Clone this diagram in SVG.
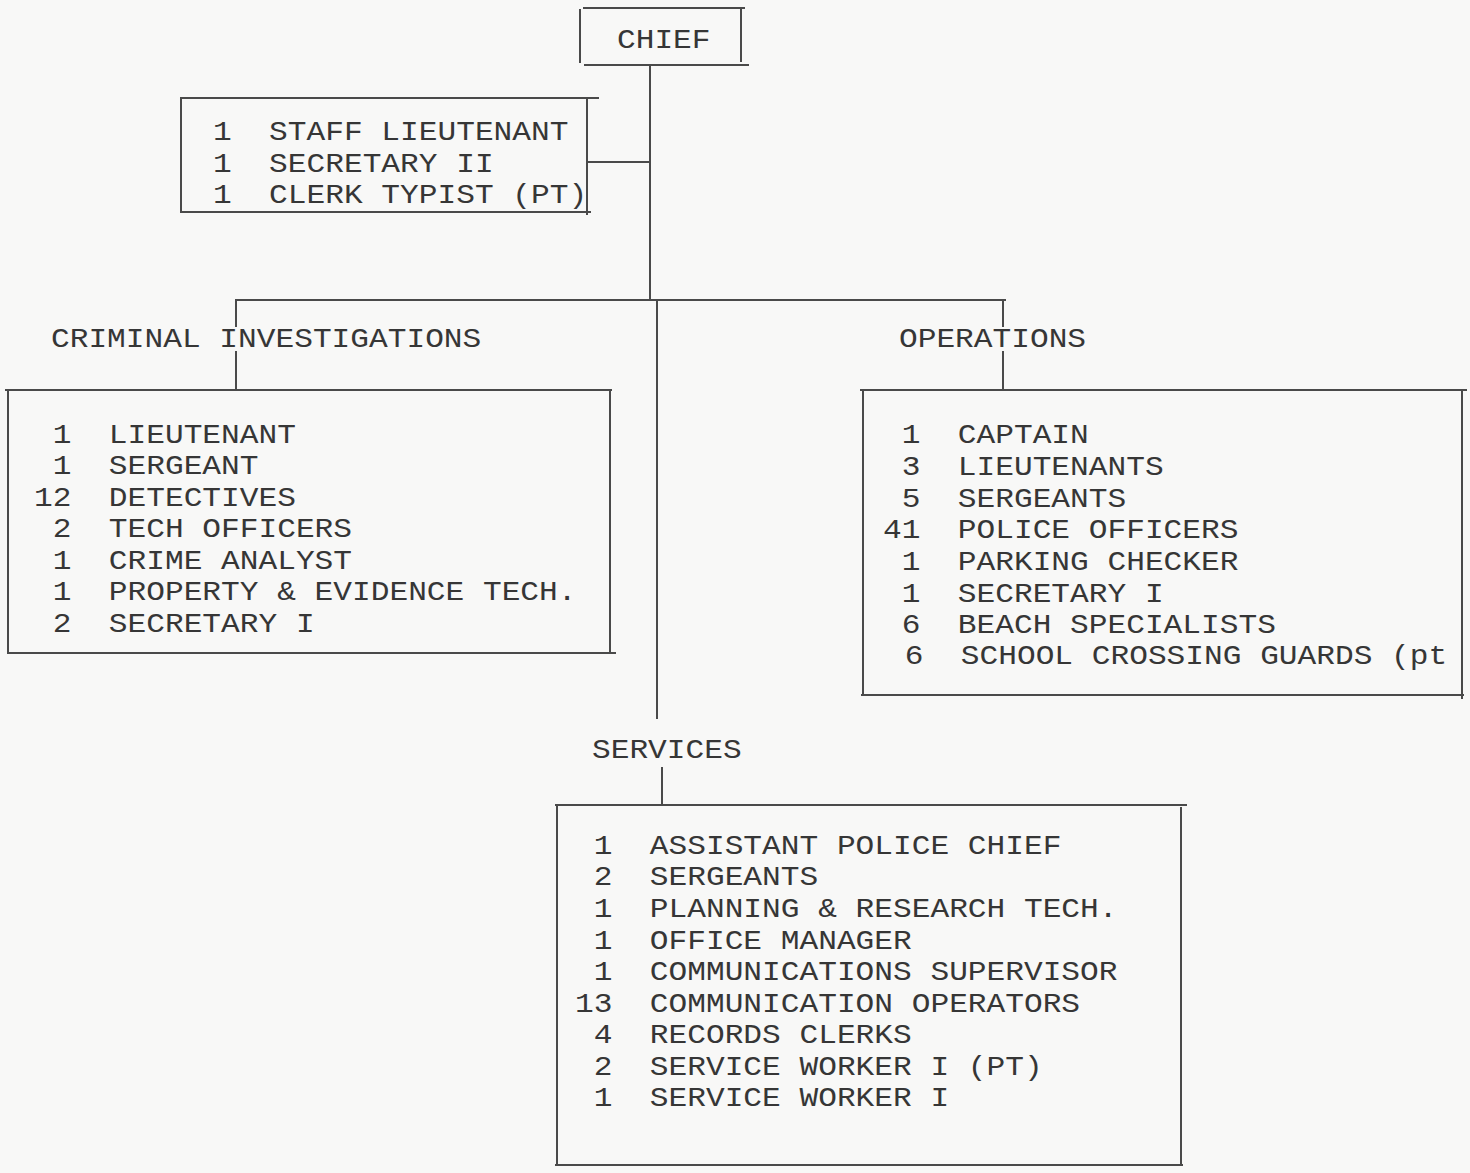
<svg xmlns="http://www.w3.org/2000/svg" width="1470" height="1173" viewBox="0 0 1470 1173" xml:space="preserve">
<style>
.bg{fill:#f8f8f7}
.ln{stroke:#4a4a4a;stroke-width:2;fill:none;stroke-linecap:square}
.t{font-family:"Liberation Mono","DejaVu Sans Mono",monospace;font-size:27px;fill:#363636;white-space:pre}
</style>
<rect class="bg" x="0" y="0" width="1470" height="1173"/>
<g id="connectors">
<path class="ln" d="M650,65 V300"/>
<path class="ln" d="M587,162 H650"/>
<path class="ln" d="M236,300 H1005"/>
<path class="ln" d="M236,300 V326 M236,352 V390"/>
<path class="ln" d="M1003,300 V326 M1003,352 V390"/>
<path class="ln" d="M657,300 V718"/>
<path class="ln" d="M662,768 V805"/>
</g>
<g id="chief">
<path class="ln" d="M580,10 V62 M584,8 H744 M741,8 V61 M585,65 H748"/>
<g transform="translate(617,0) scale(1.155,1)"><text class="t" x="0" y="48">CHIEF</text></g>
</g>
<g id="staff">
<path class="ln" d="M181,98 H598 M181,98 V210 M587,98 V214 M181,212 H590"/>
<g transform="translate(213,0) scale(1.155,1)">
<text class="t" x="0" y="140">1  STAFF LIEUTENANT</text>
<text class="t" x="0" y="172">1  SECRETARY II</text>
<text class="t" x="0" y="203">1  CLERK TYPIST (PT)</text>
</g>
</g>
<g id="criminal-investigations">
<g transform="translate(51,0) scale(1.155,1)"><text class="t" x="0" y="347">CRIMINAL INVESTIGATIONS</text></g>
<path class="ln" d="M6,390 H611 M8,390 V653 M610,392 V653 M8,653 H615"/>
<g transform="translate(34,0) scale(1.155,1)">
<text class="t" x="0" y="443"> 1  LIEUTENANT</text>
<text class="t" x="0" y="474"> 1  SERGEANT</text>
<text class="t" x="0" y="506">12  DETECTIVES</text>
<text class="t" x="0" y="537"> 2  TECH OFFICERS</text>
<text class="t" x="0" y="569"> 1  CRIME ANALYST</text>
<text class="t" x="0" y="600"> 1  PROPERTY &amp; EVIDENCE TECH.</text>
<text class="t" x="0" y="632"> 2  SECRETARY I</text>
</g>
</g>
<g id="operations">
<g transform="translate(899,0) scale(1.155,1)"><text class="t" x="0" y="347">OPERATIONS</text></g>
<path class="ln" d="M861,390 H1466 M863,390 V695 M1462,390 V698 M862,695 H1463"/>
<g transform="translate(883,0) scale(1.155,1)">
<text class="t" x="0" y="443"> 1  CAPTAIN</text>
<text class="t" x="0" y="475"> 3  LIEUTENANTS</text>
<text class="t" x="0" y="507"> 5  SERGEANTS</text>
<text class="t" x="0" y="538">41  POLICE OFFICERS</text>
<text class="t" x="0" y="570"> 1  PARKING CHECKER</text>
<text class="t" x="0" y="602"> 1  SECRETARY I</text>
<text class="t" x="0" y="633"> 6  BEACH SPECIALISTS</text>
</g>
<g transform="translate(886,0) scale(1.155,1)">
<text class="t" x="0" y="664"> 6  SCHOOL CROSSING GUARDS (pt</text>
</g>
</g>
<g id="services">
<g transform="translate(592,0) scale(1.155,1)"><text class="t" x="0" y="758">SERVICES</text></g>
<path class="ln" d="M556,805 H1186 M557,805 V1165 M1181,808 V1164 M556,1165 H1182"/>
<g transform="translate(575,0) scale(1.155,1)">
<text class="t" x="0" y="854"> 1  ASSISTANT POLICE CHIEF</text>
<text class="t" x="0" y="885"> 2  SERGEANTS</text>
<text class="t" x="0" y="917"> 1  PLANNING &amp; RESEARCH TECH.</text>
<text class="t" x="0" y="949"> 1  OFFICE MANAGER</text>
<text class="t" x="0" y="980"> 1  COMMUNICATIONS SUPERVISOR</text>
<text class="t" x="0" y="1012">13  COMMUNICATION OPERATORS</text>
<text class="t" x="0" y="1043"> 4  RECORDS CLERKS</text>
<text class="t" x="0" y="1075"> 2  SERVICE WORKER I (PT)</text>
<text class="t" x="0" y="1106"> 1  SERVICE WORKER I</text>
</g>
</g>
</svg>
